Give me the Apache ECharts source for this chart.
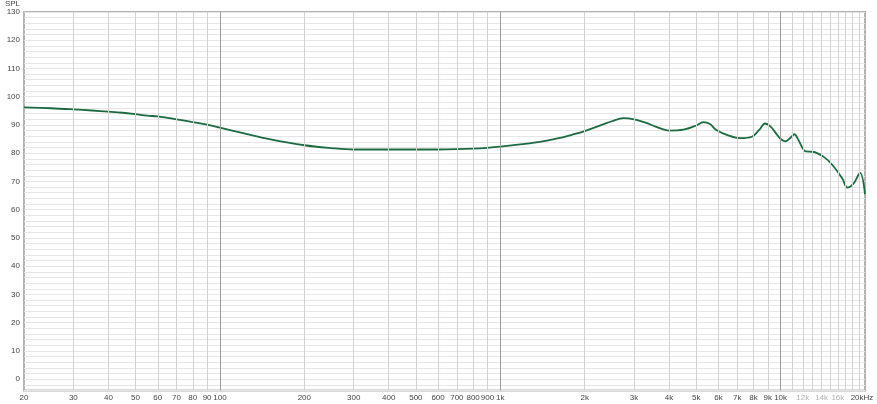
<!DOCTYPE html>
<html>
<head>
<meta charset="utf-8">
<script src="https://cdn.jsdelivr.net/npm/echarts@6/dist/echarts.min.js"></script>
<style>
html,body{margin:0;padding:0;background:#fff;}
#c{width:877px;height:404px;}
</style>
</head>
<body>
<div id="c"></div>
<script>
// Frequency (Hz) and SPL (dB)
const freqs = [20, 25, 30, 35, 40, 45, 50, 55, 60, 65, 70, 80, 90, 100, 120, 150, 200, 250, 300, 400, 500, 600, 700, 800, 900, 1000, 1200, 1400, 1600, 1800, 2000, 2300, 2500, 2750, 3000, 3300, 3600, 4000, 4500, 5000, 5300, 5600, 5900, 6500, 7200, 7900, 8400, 8800, 9200, 9600, 10000, 10400, 10800, 11200, 11600, 12300, 13000, 14300, 15300, 16600, 17300, 18200, 19200, 20000];
const spl = [96.2, 95.9, 95.5, 95.1, 94.7, 94.3, 93.8, 93.3, 93.0, 92.5, 92.0, 91.0, 90.1, 89.0, 87.2, 85.0, 82.8, 81.8, 81.3, 81.3, 81.3, 81.3, 81.4, 81.6, 81.9, 82.3, 83.2, 84.1, 85.2, 86.5, 87.8, 90.0, 91.3, 92.4, 92.0, 90.8, 89.3, 88.0, 88.3, 89.8, 91.0, 90.3, 88.2, 86.3, 85.3, 85.8, 88.3, 90.5, 89.5, 87.2, 85.0, 84.2, 85.3, 86.7, 84.5, 80.6, 80.5, 78.6, 75.8, 71.0, 67.8, 69.2, 73.0, 65.5];

// Vertical grid frequencies and tick labels
const gridFreqs = [30, 40, 50, 60, 70, 80, 90, 100, 200, 300, 400, 500, 600, 700, 800, 900, 1000, 2000, 3000, 4000, 5000, 6000, 7000, 8000, 9000, 10000, 11000, 12000, 13000, 14000, 15000, 16000, 17000, 18000, 19000];
const majorFreqs = [100, 1000, 10000];
const tickFreqs = [20, 30, 40, 50, 60, 70, 80, 90, 100, 200, 300, 400, 500, 600, 700, 800, 900, 1000, 2000, 3000, 4000, 5000, 6000, 7000, 8000, 9000, 10000, 12000, 14000, 16000, 20000];
const tickLabels = ['20', '30', '40', '50', '60', '70', '80', '90', '100', '200', '300', '400', '500', '600', '700', '800', '900', '1k', '2k', '3k', '4k', '5k', '6k', '7k', '8k', '9k', '10k', '12k', '14k', '16k', '20kHz'];
const lightLabels = ['12k', '14k', '16k'];

const FONT = 'Liberation Sans';
const chart = echarts.init(document.getElementById('c'));

const lineData = gridFreqs.map(f => ({
  xAxis: f,
  lineStyle: { color: majorFreqs.includes(f) ? '#9c9c9c' : '#d2d2d2', width: 1, type: 'solid' },
  label: { show: false }
}));
const labelData = tickFreqs.map((f, i) => ({
  xAxis: f,
  lineStyle: { color: 'rgba(0,0,0,0)', width: 0 },
  label: {
    show: true,
    position: 'start',
    distance: 3,
    formatter: tickLabels[i],
    color: lightLabels.includes(tickLabels[i]) ? '#b0b0b0' : '#444',
    fontSize: 8,
    fontFamily: FONT,
    offset: tickLabels[i] === '20kHz' ? [-3, 0] : [0, 0]
  }
}));

chart.setOption({
  animation: false,
  backgroundColor: '#fff',
  grid: {
    left: 24, right: 12, top: 10.5, bottom: 13.5,
    show: true, borderColor: '#b2b2b2', borderWidth: 2, backgroundColor: 'transparent'
  },
  xAxis: {
    type: 'log', logBase: 10, min: 20, max: 20000,
    axisLabel: { show: false }, axisTick: { show: false }, axisLine: { show: false }, splitLine: { show: false }
  },
  yAxis: {
    type: 'value', min: -4, max: 130, interval: 2,
    name: 'SPL', nameLocation: 'end', nameGap: 2,
    nameTextStyle: { align: 'right', verticalAlign: 'bottom', fontSize: 8, fontFamily: FONT, color: '#444', padding: [0, 4, 0, 0] },
    axisLine: { show: false }, axisTick: { show: false },
    axisLabel: {
      margin: 4, fontSize: 8, fontFamily: FONT, color: '#444',
      formatter: v => (v >= 0 && v % 10 === 0) ? String(v) : ''
    },
    splitLine: { show: true, lineStyle: { color: '#e6e6e6', width: 1 } }
  },
  series: [
    {
      type: 'line', data: [], z: 1, silent: true,
      markLine: {
        silent: true, symbol: ['none', 'none'], animation: false,
        data: lineData.concat(labelData)
      }
    },
    {
      type: 'line', z: 3,
      data: freqs.map((f, i) => [f, spl[i]]),
      showSymbol: false, symbol: 'none', smooth: 0.35,
      lineStyle: { color: '#1d6a40', width: 1.8 }
    }
  ]
});
</script>
</body>
</html>
